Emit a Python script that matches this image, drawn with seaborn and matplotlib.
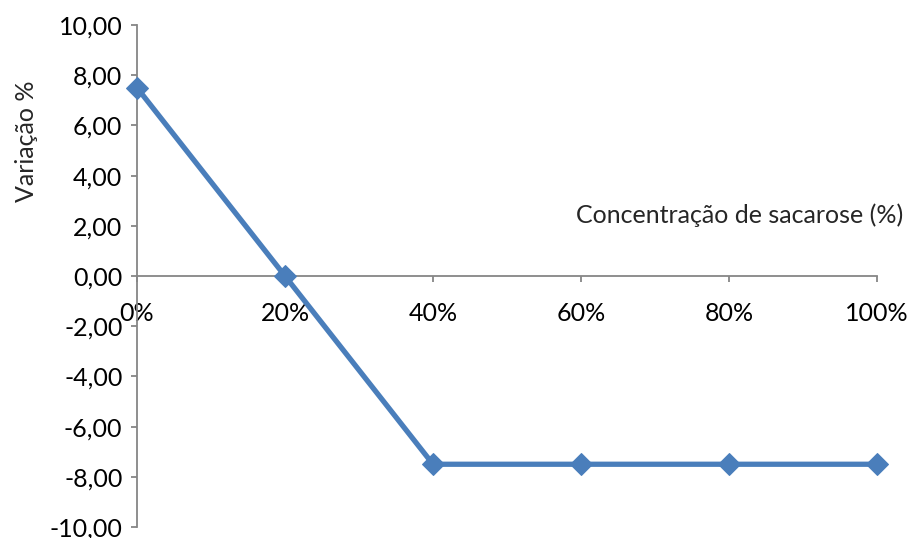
import matplotlib
matplotlib.use("Agg")
import matplotlib.pyplot as plt
from matplotlib.ticker import FuncFormatter, MultipleLocator
import seaborn as sns
import pandas as pd

# Sucrose concentration categories and percentage variation
concentracoes = ["0%", "20%", "40%", "60%", "80%", "100%"]
variacao = [7.5, 0.0, -7.5, -7.5, -7.5, -7.5]

sns.set_style("white")
plt.rcParams["font.family"] = ["Lato", "DejaVu Sans"]

df = pd.DataFrame({"pos": range(len(concentracoes)), "variacao": variacao})

fig = plt.figure(figsize=(9.08, 5.38), dpi=100)
ax = fig.add_axes([137 / 908, 1 - 527 / 538, 740 / 908, 502 / 538])

axis_grey = "#868686"
line_blue = "#4a7ebb"
fs = 18

sns.lineplot(data=df, x="pos", y="variacao", ax=ax, color=line_blue,
             linewidth=3.8, marker="D", markersize=11,
             markeredgecolor=line_blue, markerfacecolor=line_blue,
             clip_on=False, zorder=5)

ax.set_xlim(0, len(concentracoes) - 1)
ax.set_ylim(-10, 10)
ax.set_xticks(range(len(concentracoes)))
ax.set_xticklabels(concentracoes)
ax.yaxis.set_major_locator(MultipleLocator(2))
ax.yaxis.set_major_formatter(FuncFormatter(lambda v, p: f"{v:.2f}".replace(".", ",")))

for side in ["top", "right"]:
    ax.spines[side].set_visible(False)
ax.spines["bottom"].set_position(("data", 0))
for side in ["left", "bottom"]:
    ax.spines[side].set_color(axis_grey)
    ax.spines[side].set_linewidth(1.3)

ax.tick_params(axis="both", colors=axis_grey, labelcolor="black",
               labelsize=fs, direction="out", length=4.5, width=1.3)
ax.tick_params(axis="x", pad=14)
ax.tick_params(axis="y", pad=6)
ax.xaxis.set_ticks_position("bottom")
ax.yaxis.set_ticks_position("left")

ax.set_xlabel("Concentração de sacarose (%)", fontsize=fs, ha="right", va="center")
ax.xaxis.set_label_coords((903 - 137) / 740, (527 - 215) / 502)
ax.set_ylabel("Variação %", fontsize=fs, va="center")
ax.yaxis.set_label_coords((26 - 137) / 740, (527 - 141) / 502)

fig.savefig("out.png", dpi=100)
